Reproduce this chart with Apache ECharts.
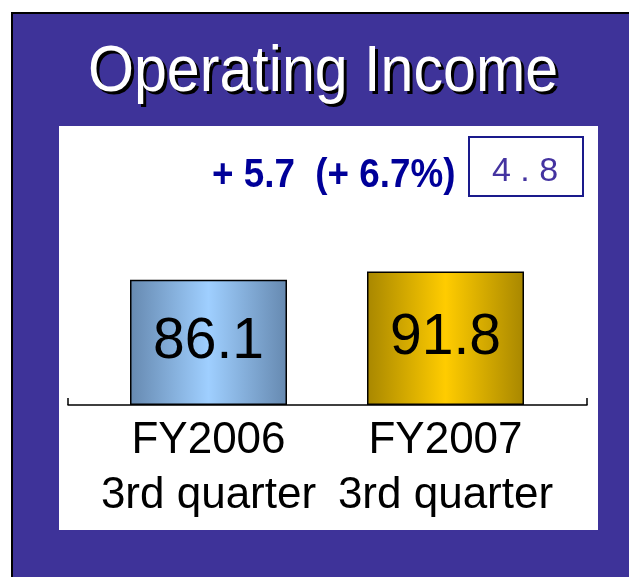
<!DOCTYPE html>
<html>
<head>
<meta charset="UTF-8">
<title>Operating Income</title>
<script src="https://cdn.jsdelivr.net/npm/echarts@6/dist/echarts.min.js"></script>
<style>
html,body{margin:0;padding:0;background:#fff;}
</style>
</head>
<body>
<div id="charts" style="width:629px;height:577px"></div>
<script type="text/javascript">
var titleText='Operating Income';
var categories=['FY2006\n3rd quarter','FY2007\n3rd quarter'];
var values=[86.1,91.8];
var changeText='+ 5.7  (+ 6.7%)';
var boxText='4 . 8';

var purple='#3e3399';
var mychart=echarts.init(document.getElementById('charts'));

// gradients for the two bars (dark edges, light middle)
function sideGrad(edge,mid){
	return new echarts.graphic.LinearGradient(0,0,1,0,[
		{offset:0,color:edge},
		{offset:0.5,color:mid},
		{offset:1,color:edge}
	]);
}
var barColors=[sideGrad('#6689b0','#9fcfff'),sideGrad('#a88700','#ffcc00')];
var titleFont='65px "Liberation Sans", Arial, sans-serif';

var option={
	backgroundColor:'#fff',
	animation:false,
	graphic:[
		{type:'rect',z:-10,shape:{x:12,y:13,width:640,height:600},
			style:{fill:purple,stroke:'#000',lineWidth:2}},
		{type:'rect',z:-9,shape:{x:59,y:126,width:539,height:404},
			style:{fill:'#fff'}},
		<!--title: black copy underneath as the drop shadow-->
		{type:'text',z:10,x:326,y:109,scaleX:0.91,
			style:{text:titleText,fill:'#000',font:titleFont,align:'center',verticalAlign:'bottom'}},
		{type:'text',z:11,x:323,y:106,scaleX:0.91,
			style:{text:titleText,fill:'#fff',font:titleFont,align:'center',verticalAlign:'bottom'}},
		{type:'text',z:10,x:212,y:196,scaleX:0.92,
			style:{text:changeText,fill:'#000099',font:'bold 40px "Liberation Sans", Arial, sans-serif',
				align:'left',verticalAlign:'bottom'}},
		{type:'rect',z:10,shape:{x:469,y:137,width:114,height:59},
			style:{fill:'none',stroke:'#1a1a8c',lineWidth:2}},
		{type:'text',z:10,x:525,y:189,
			style:{text:boxText,fill:'#4433a0',font:'34px "Liberation Sans", Arial, sans-serif',
				align:'center',verticalAlign:'bottom'}}
	],
	grid:[
		{left:90,right:65,top:187,bottom:172},
		{left:68,right:42,top:187,bottom:172}
	],
	xAxis:[
		{type:'category',gridIndex:0,data:categories,
			axisLine:{show:false},axisTick:{show:false},
			axisLabel:{interval:0,color:'#000',fontSize:44,lineHeight:55,margin:8,
				fontFamily:'"Liberation Sans", Arial, sans-serif'}},
		{type:'category',gridIndex:1,data:[''],
			axisLine:{lineStyle:{color:'#000',width:1.5}},
			axisTick:{show:true,inside:true,length:7,lineStyle:{color:'#000',width:1.5}},
			axisLabel:{show:false}}
	],
	yAxis:[
		{type:'value',gridIndex:0,min:0,max:150,show:false},
		{type:'value',gridIndex:1,min:0,max:150,show:false}
	],
	series:[{
		name:'Operating Income',
		type:'bar',
		xAxisIndex:0,
		yAxisIndex:0,
		barWidth:157,
		data:values.map(function(v,i){
			return {value:v,itemStyle:{color:barColors[i]}};
		}),
		itemStyle:{borderColor:'#000',borderWidth:1.5},
		label:{
			show:true,
			position:'inside',
			color:'#000',
			fontSize:57,
			fontFamily:'"Liberation Sans", Arial, sans-serif'
		}
	}]
};
mychart.setOption(option);
</script>
</body>
</html>
